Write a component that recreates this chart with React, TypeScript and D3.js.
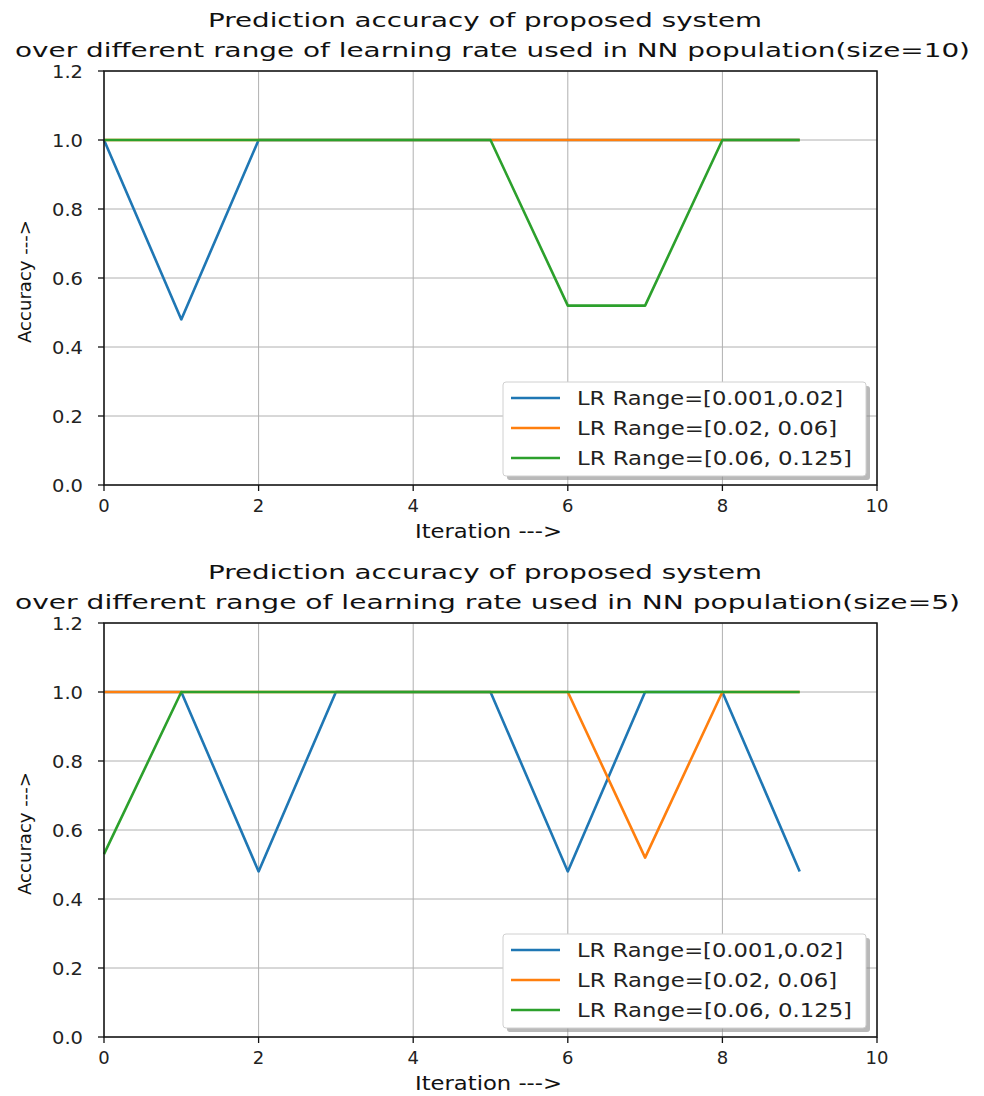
import React from "react";
import * as d3 from "d3";

const iterations = [0, 1, 2, 3, 4, 5, 6, 7, 8, 9];
const seriesNames = ["LR Range=[0.001,0.02]", "LR Range=[0.02, 0.06]", "LR Range=[0.06, 0.125]"];
const seriesColors = ["#1f77b4", "#ff7f0e", "#2ca02c"];
const legendTextWidths = [266, 260, 275];

// size=10
const top_blue = [1.0, 0.48, 1.0, 1.0, 1.0, 1.0, 1.0, 1.0, 1.0, 1.0];
const top_orange = [1.0, 1.0, 1.0, 1.0, 1.0, 1.0, 1.0, 1.0, 1.0, 1.0];
const top_green = [1.0, 1.0, 1.0, 1.0, 1.0, 1.0, 0.52, 0.52, 1.0, 1.0];

// size=5
const bot_blue = [1.0, 1.0, 0.48, 1.0, 1.0, 1.0, 0.48, 1.0, 1.0, 0.48];
const bot_orange = [1.0, 1.0, 1.0, 1.0, 1.0, 1.0, 1.0, 0.52, 1.0, 1.0];
const bot_green = [0.53, 1.0, 1.0, 1.0, 1.0, 1.0, 1.0, 1.0, 1.0, 1.0];

const xTicks = [0, 2, 4, 6, 8, 10];
const yTicks = [0.0, 0.2, 0.4, 0.6, 0.8, 1.0, 1.2];

const titleLine1 = "Prediction accuracy of proposed system";
const titleLine2Top = "over different range of learning rate used in NN population(size=10)";
const titleLine2Bot = "over different range of learning rate used in NN population(size=5)";
const xLabel = "Iteration --->";
const yLabel = "Accuracy --->";

const FONT = "DejaVu Sans, Verdana, sans-serif";

type PanelProps = {
  top: number;
  title2: string;
  title2Left: number;
  title2Width: number;
  series: number[][];
};

function Panel({ top, title2, title2Left, title2Width, series }: PanelProps) {
  const left = 104;
  const right = 877;
  const plotTop = top;
  const plotBottom = top + 414;
  const x = d3.scaleLinear().domain([0, 10]).range([left, right]);
  const y = d3.scaleLinear().domain([0, 1.2]).range([plotBottom, plotTop]);
  const line = d3
    .line<number>()
    .x((_, i) => x(iterations[i]))
    .y((d) => y(d));

  const legX = 503;
  const legY = plotBottom - 103;
  const legW = 363;
  const legH = 94;

  return (
    <g>
      <text x={208} y={plotTop - 44} fontSize={20} fontFamily={FONT} fill="#111" textLength={554} lengthAdjust="spacingAndGlyphs">
        {titleLine1}
      </text>
      <text x={title2Left} y={plotTop - 14} fontSize={20} fontFamily={FONT} fill="#111" textLength={title2Width} lengthAdjust="spacingAndGlyphs">
        {title2}
      </text>
      {/* grid */}
      {xTicks.map((t) => (
        <line key={"gx" + t} x1={x(t)} x2={x(t)} y1={plotTop} y2={plotBottom} stroke="#b0b0b0" strokeWidth={1} />
      ))}
      {yTicks.map((t) => (
        <line key={"gy" + t} x1={left} x2={right} y1={y(t)} y2={y(t)} stroke="#b0b0b0" strokeWidth={1} />
      ))}
      {/* series */}
      {series.map((s, i) => (
        <path key={"s" + i} d={line(s) || ""} fill="none" stroke={seriesColors[i]} strokeWidth={2.6} strokeLinejoin="round" />
      ))}
      {/* spines */}
      <rect x={left} y={plotTop} width={right - left} height={plotBottom - plotTop} fill="none" stroke="#111" strokeWidth={1.5} />
      {/* ticks */}
      {xTicks.map((t) => (
        <g key={"xt" + t}>
          <line x1={x(t)} x2={x(t)} y1={plotBottom} y2={plotBottom + 6} stroke="#111" strokeWidth={1.3} />
          <text x={x(t)} y={plotBottom + 27} textAnchor="middle" fontSize={18} fontFamily={FONT} fill="#222">
            {t}
          </text>
        </g>
      ))}
      {yTicks.map((t) => (
        <g key={"yt" + t}>
          <line x1={left - 6} x2={left} y1={y(t)} y2={y(t)} stroke="#111" strokeWidth={1.3} />
          <text x={left - 21} y={y(t) + 6.5} textAnchor="end" fontSize={18} fontFamily={FONT} fill="#222" textLength={31} lengthAdjust="spacingAndGlyphs">
            {t.toFixed(1)}
          </text>
        </g>
      ))}
      <text x={415} y={plotBottom + 53} fontSize={19} fontFamily={FONT} fill="#111" textLength={147} lengthAdjust="spacingAndGlyphs">
        {xLabel}
      </text>
      <text
        transform={`translate(31, ${(plotTop + plotBottom) / 2 + 3.5}) rotate(-90)`}
        textAnchor="middle"
        fontSize={17}
        fontFamily={FONT}
        fill="#111"
        textLength={123}
        lengthAdjust="spacingAndGlyphs"
      >
        {yLabel}
      </text>
      {/* legend */}
      <rect x={legX + 4} y={legY + 4} width={legW} height={legH} rx={3} fill="#8a8a8a" opacity={0.6} />
      <rect x={legX} y={legY} width={legW} height={legH} rx={3} fill="#ffffff" stroke="#d0d0d0" strokeWidth={1} />
      {seriesNames.map((n, i) => {
        const ry = legY + 16 + i * 30;
        return (
          <g key={"l" + i}>
            <line x1={legX + 8} x2={legX + 57} y1={ry} y2={ry} stroke={seriesColors[i]} strokeWidth={2.6} />
            <text x={legX + 74} y={ry + 7} fontSize={19} fontFamily={FONT} fill="#222" textLength={legendTextWidths[i]} lengthAdjust="spacingAndGlyphs">
              {n}
            </text>
          </g>
        );
      })}
    </g>
  );
}

export default function App() {
  return (
    <div style={{ position: "absolute", left: 0, top: 0 }}>
      <svg width={984} height={1096} style={{ display: "block", background: "#fff" }}>
        <Panel top={71} title2={titleLine2Top} title2Left={15} title2Width={955} series={[top_blue, top_orange, top_green]} />
        <Panel top={623} title2={titleLine2Bot} title2Left={15} title2Width={945} series={[bot_blue, bot_orange, bot_green]} />
      </svg>
    </div>
  );
}
